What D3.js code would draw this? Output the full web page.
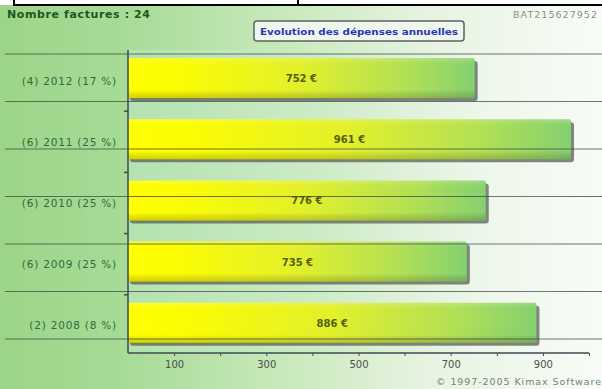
<!DOCTYPE html>
<html><head><meta charset="utf-8">
<script src="https://cdn.jsdelivr.net/npm/d3@7"></script>
<style>html,body{margin:0;padding:0;background:#fff}svg{display:block}</style>
</head><body>
<svg id="c" width="602" height="389"></svg>
<script>
const categories = ["(4) 2012 (17 %)", "(6) 2011 (25 %)", "(6) 2010 (25 %)", "(6) 2009 (25 %)", "(2) 2008 (8 %)"];
const values = [752, 961, 776, 735, 886];
const valueLabels = ["752 €", "961 €", "776 €", "735 €", "886 €"];
const tickValues = [100, 200, 300, 400, 500, 600, 700, 800, 900, 1000];
const tickLabels = ["100", "", "300", "", "500", "", "700", "", "900", ""];
const title = "Evolution des dépenses annuelles";
const header = "Nombre factures : 24";
const reference = "BAT215627952";
const copyright = "© 1997-2005 Kimax Software";

const W = 602, H = 389;
const svg = d3.select("#c");
const defs = svg.append("defs");
const font = "'DejaVu Sans', Verdana, sans-serif";

const bg = defs.append("linearGradient").attr("id","bg").attr("x1",0).attr("x2",1).attr("y1",0).attr("y2",0);
[[0,"#9bd589"],[0.2,"#a6db96"],[0.45,"#c6e8b8"],[0.7,"#e6f3e0"],[1,"#f9fcf8"]].forEach(s=>bg.append("stop").attr("offset",s[0]).attr("stop-color",s[1]));
const pg = defs.append("linearGradient").attr("id","pg").attr("x1",0).attr("x2",1).attr("y1",0).attr("y2",0);
[[0,"#b4e2b0"],[0.4,"#cdebc6"],[0.75,"#eef7eb"],[1,"#f8fbf7"]].forEach(s=>pg.append("stop").attr("offset",s[0]).attr("stop-color",s[1]));
const barG = defs.append("linearGradient").attr("id","barG").attr("x1",0).attr("x2",1).attr("y1",0).attr("y2",0);
[[0,"#ffff00"],[0.15,"#fbfc04"],[0.5,"#e2f02c"],[0.8,"#b2e055"],[1,"#84d070"]].forEach(s=>barG.append("stop").attr("offset",s[0]).attr("stop-color",s[1]));
const shade = defs.append("linearGradient").attr("id","shade").attr("x1",0).attr("x2",0).attr("y1",0).attr("y2",1);
[[0,"#ffffff",0.18],[0.15,"#ffffff",0],[0.8,"#000000",0],[1,"#403000",0.22]].forEach(s=>shade.append("stop").attr("offset",s[0]).attr("stop-color",s[1]).attr("stop-opacity",s[2]));

svg.append("rect").attr("width",W).attr("height",H).attr("fill","url(#bg)");

const x = d3.scaleLinear().domain([0, 1000]).range([128, 589]);
const y = d3.scaleBand().domain(categories).range([50, 356]).padding(0);

svg.append("rect").attr("x",x(0)).attr("y",50).attr("width",W-x(0)).attr("height",303).attr("fill","url(#pg)");

// top white strip with table border
svg.append("rect").attr("x",0).attr("y",0).attr("width",W).attr("height",5).attr("fill","#fff");
svg.append("line").attr("x1",14).attr("x2",W).attr("y1",5).attr("y2",5).attr("stroke","#000").attr("stroke-width",2);
svg.append("line").attr("x1",14).attr("x2",14).attr("y1",0).attr("y2",6).attr("stroke","#000").attr("stroke-width",2);
svg.append("line").attr("x1",298).attr("x2",298).attr("y1",0).attr("y2",6).attr("stroke","#000").attr("stroke-width",2);

svg.append("text").attr("x",7).attr("y",18).attr("font-family",font).attr("font-size",11).attr("font-weight","bold").attr("fill","#1f561c").attr("textLength",143).attr("lengthAdjust","spacing").text(header);
svg.append("text").attr("x",513).attr("y",18).attr("font-family",font).attr("font-size",9.5).attr("fill","#8a8f8a").attr("textLength",84).attr("lengthAdjust","spacing").text(reference);

const tb = svg.append("g");
tb.append("rect").attr("x",254).attr("y",21).attr("width",210).attr("height",20).attr("rx",3).attr("fill","#eef6ee").attr("stroke","#5c625c").attr("stroke-width",1.5);
tb.append("text").attr("x",359).attr("y",35).attr("text-anchor","middle").attr("font-family",font).attr("font-size",9.5).attr("font-weight","bold").attr("fill","#2a35b8").attr("textLength",198).attr("lengthAdjust","spacingAndGlyphs").text(title);

const bars = svg.append("g");
const bh = 40, boff = 8;
bars.selectAll("rect.sh").data(values).join("rect").attr("class","sh")
  .attr("x", x(0)+2).attr("y",(d,i)=>y(categories[i])+boff+3).attr("width",d=>x(d)-x(0)+1).attr("height",bh)
  .attr("rx",3).attr("fill","#5a5f55").attr("opacity",0.75);
bars.selectAll("rect.b").data(values).join("rect").attr("class","b")
  .attr("x", x(0)).attr("y",(d,i)=>y(categories[i])+boff).attr("width",d=>x(d)-x(0)).attr("height",bh)
  .attr("rx",2).attr("fill","url(#barG)");
bars.selectAll("rect.s").data(values).join("rect").attr("class","s")
  .attr("x", x(0)).attr("y",(d,i)=>y(categories[i])+boff).attr("width",d=>x(d)-x(0)).attr("height",bh)
  .attr("rx",2).attr("fill","url(#shade)");

svg.append("g").selectAll("text").data(values).join("text")
  .attr("x",d=>(x(0)+x(d))/2).attr("y",(d,i)=>y(categories[i])+boff+bh/2+4)
  .attr("text-anchor","middle").attr("font-family",font).attr("font-size",10).attr("font-weight","bold")
  .attr("fill","#55600f").text((d,i)=>valueLabels[i]);

svg.append("g").selectAll("line").data(d3.range(7)).join("line")
  .attr("x1",5).attr("x2",W).attr("y1",k=>54+47.5*k).attr("y2",k=>54+47.5*k)
  .attr("stroke","#3f4a3f").attr("stroke-opacity",0.75).attr("stroke-width",1);

svg.append("g").selectAll("text").data(categories).join("text")
  .attr("x",117).attr("y",d=>y(d)+y.bandwidth()/2+4).attr("text-anchor","end")
  .attr("font-family",font).attr("font-size",10.5).attr("letter-spacing",0.8).attr("fill","#2f6a3a").text(d=>d);

const ya = svg.append("g");
ya.append("line").attr("x1",x(0)).attr("x2",x(0)).attr("y1",50).attr("y2",353).attr("stroke","#3e4a52").attr("stroke-width",1.5);
ya.selectAll("line.t").data(categories.slice(1)).join("line").attr("class","t")
  .attr("x1",x(0)-4).attr("x2",x(0)).attr("y1",d=>y(d)).attr("y2",d=>y(d)).attr("stroke","#3e4a52").attr("stroke-width",1.5);

const xAxis = d3.axisBottom(x).tickValues(tickValues).tickSize(3).tickPadding(5)
  .tickFormat((d,i)=>tickLabels[i]);
const xa = svg.append("g").attr("transform","translate(0,353)").call(xAxis);
xa.select(".domain").attr("d",`M${x(0)},0H${x(1000)}`).attr("stroke","#3e4a52").attr("stroke-width",1.5);
xa.selectAll(".tick line").attr("stroke","#3e4a52");
xa.selectAll(".tick text").attr("font-family",font).attr("font-size",10).attr("fill","#4a4f4a");

svg.append("text").attr("x",436).attr("y",385).attr("font-family",font).attr("font-size",9.5).attr("fill","#7a7f7a").attr("textLength",165).attr("lengthAdjust","spacing").text(copyright);
</script>
</body></html>
